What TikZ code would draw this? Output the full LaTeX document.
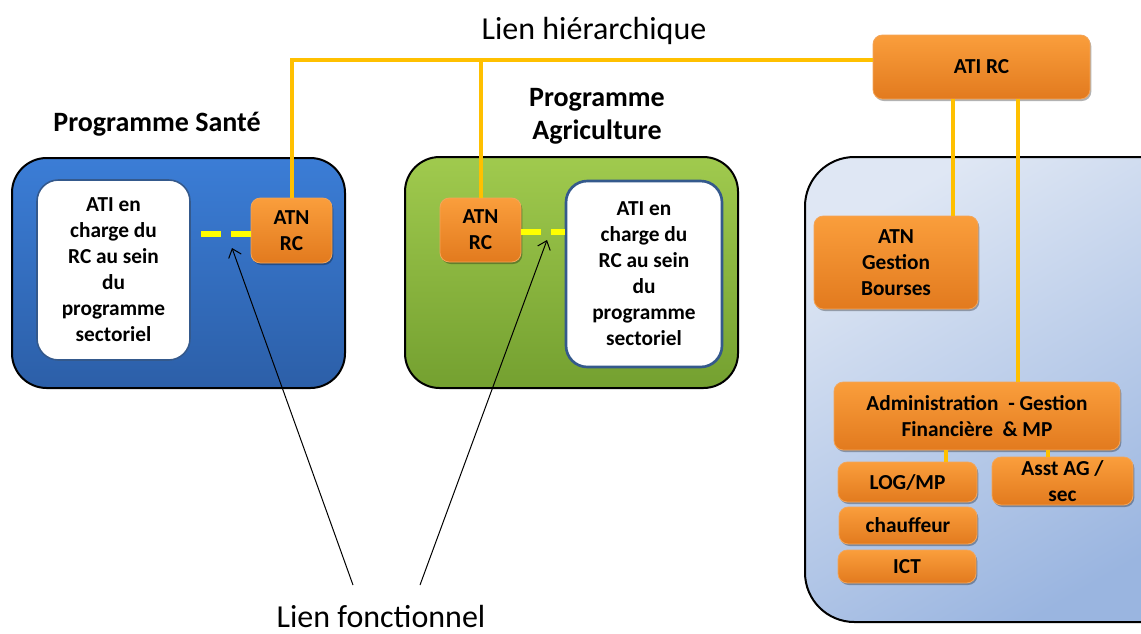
\documentclass[tikz,border=0pt]{standalone}
\usepackage{fontspec}
\setmainfont{Carlito}
\usetikzlibrary{shadows,arrows.meta}
\definecolor{orTop}{HTML}{FA9E3C}
\definecolor{orBot}{HTML}{E27A1E}
\definecolor{orEdge}{HTML}{F3A559}
\definecolor{hierC}{HTML}{FFC000}
\definecolor{dashC}{HTML}{FFFF00}
\definecolor{blueTop}{HTML}{3B7DD6}
\definecolor{blueBot}{HTML}{2C5FA8}
\definecolor{greenTop}{HTML}{A0CA4E}
\definecolor{greenBot}{HTML}{74A030}
\definecolor{lightTop}{HTML}{DFE7F4}
\definecolor{lightBot}{HTML}{9AB5E0}
\definecolor{wEdge}{HTML}{34598C}
\begin{document}
\begin{tikzpicture}[x=0.75pt,y=-0.75pt,
  sz/.style 2 args={minimum width=#1*0.75pt, minimum height=#2*0.75pt},
  container/.style={draw=black, line width=1.5pt, inner sep=0pt},
  orangebox/.style={rounded corners=7pt, top color=orTop, bottom color=orBot,
     draw=orEdge, line width=0.6pt, inner sep=0pt, align=center,
     font=\bfseries\fontsize{16}{19.5}\selectfont,
     drop shadow={shadow xshift=1pt, shadow yshift=-1.5pt, fill=black, opacity=0.3}},
  whitebox/.style={rounded corners=16pt, fill=white, draw=wEdge, inner sep=0pt,
     align=center, font=\bfseries\fontsize{16}{19.5}\selectfont},
  heading/.style={font=\bfseries\fontsize{21}{24.75}\selectfont, align=center},
  label/.style={font=\fontsize{24}{28}\selectfont},
  hier/.style={draw=hierC, line width=3pt},
  func/.style={draw=dashC, line width=4.5pt, dash pattern=on 15pt off 7.5pt},
  pointer/.style={-{Straight Barb[length=6pt,width=10pt]}, line width=0.75pt}
]
\clip (0,0) rectangle (1141,633);
\useasboundingbox (0,0) rectangle (1141,633);

% containers
\node[container, sz={333}{230}, rounded corners=26pt, top color=blueTop, bottom color=blueBot] (sante) at (178.5,273) {};
\node[container, sz={333}{231}, rounded corners=26pt, top color=greenTop, bottom color=greenBot] (agri) at (571.5,272.5) {};
\node[container, sz={385}{465}, rounded corners=37pt, top color=lightTop, bottom color=lightBot, shading angle=30] (admin) at (997.5,389.5) {};

% headings
\node[label] (lh) at (594,31) {Lien hiérarchique};
\node[heading] (hs) at (157,124) {Programme Santé};
\node[heading] (ha) at (597,116) {Programme\\Agriculture};
\node[label] (lf) at (381,616) {Lien fonctionnel};

% inner boxes
\node[whitebox, sz={153}{180}, line width=1.2pt] (w1) at (113.5,270) {ATI en\\charge du\\RC au sein\\du\\programme\\sectoriel};
\node[whitebox, sz={156}{186}, line width=2pt] (w2) at (644,274) {ATI en\\charge du\\RC au sein\\du\\programme\\sectoriel};
\node[orangebox, sz={81}{65}] (atnS) at (291.5,230.5) {ATN\\RC};
\node[orangebox, sz={81}{64}] (atnA) at (480.5,230) {ATN\\RC};

\node[orangebox, sz={217}{64}] (atirc) at (981.5,67) {ATI RC};
\node[orangebox, sz={164}{93}] (atnG) at (896,262.5) {ATN\\Gestion\\Bourses};
\node[orangebox, sz={286}{68}] (adm) at (977,416) {Administration\ \ -\ Gestion\\Financière\ \ \& MP};
\node[orangebox, sz={139}{40}] (log) at (907.5,482) {LOG/MP};
\node[orangebox, sz={138}{37}] (chauf) at (908,525.5) {chauffeur};
\node[orangebox, sz={138}{33}] (ict) at (907,566.5) {ICT};
\node[orangebox, sz={141}{48}] (asst) at (1062.5,481) {Asst AG /\\sec};

% hierarchical links
\coordinate (hl) at ([yshift=5.25pt]atirc.west);
\draw[hier] (hl) -| (atnS.north);
\draw[hier] (atnA.north) -- (atnA.north |- hl);
\draw[hier] ([xshift=42.75pt]atnG.north) -- ([xshift=42.75pt]atnG.north |- atirc.south);
\draw[hier] ([xshift=30.75pt]adm.north) -- ([xshift=30.75pt]adm.north |- atirc.south);
\draw[hier] ([xshift=29pt]log.north) -- ([xshift=29pt]log.north |- adm.south);
\draw[hier] ([xshift=-10.9pt]asst.north) -- ([xshift=-10.9pt]asst.north |- adm.south);

% functional links
\draw[func] ([yshift=-2.6pt]atnS.west) -- ([yshift=-2.6pt]atnS.west -| w1.east);
\draw[func] ([yshift=-1.5pt]atnA.east) -- ([yshift=-1.5pt]atnA.east -| w2.west);

% pointers
\coordinate (p1s) at (353,585);
\coordinate (p1e) at (232,248);
\coordinate (p2s) at (420,585);
\coordinate (p2e) at (547,240);
\draw[pointer] (p1s) -- (p1e);
\draw[pointer] (p2s) -- (p2e);
\end{tikzpicture}
\end{document}
